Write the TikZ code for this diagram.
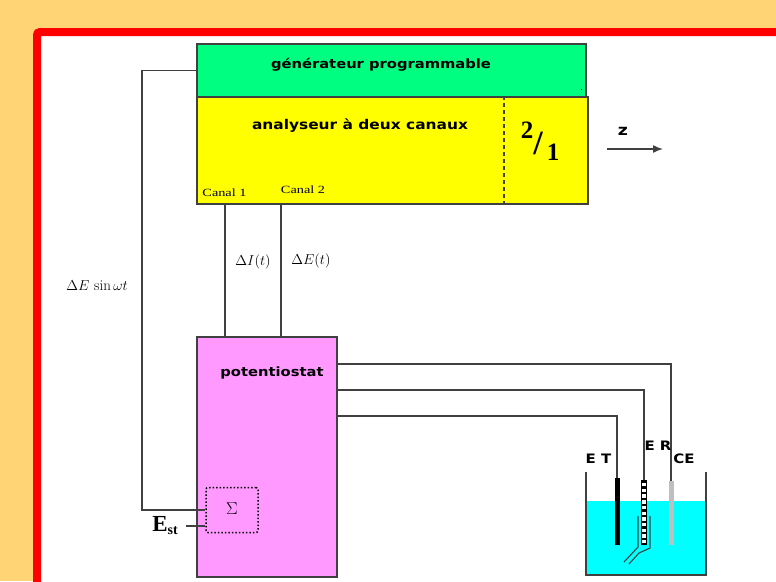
\documentclass[tikz,border=0pt]{standalone}
\usepackage{amsmath,amssymb}
\usepackage{xcolor}
\usepackage{fontspec}
\newfontfamily\boxfont[FakeStretch=1.15]{DejaVu Sans}
\newfontfamily\capfont{Liberation Serif}
\newfontfamily\canalfont[FakeStretch=1.3]{Liberation Serif}
\usetikzlibrary{calc,arrows.meta}
\definecolor{pagebg}{HTML}{FFD475}
\definecolor{genfill}{HTML}{00FF80}
\definecolor{anafill}{HTML}{FFFF00}
\definecolor{potfill}{HTML}{FF99FF}
\definecolor{waterfill}{HTML}{00FFFF}
\definecolor{wirecol}{HTML}{404040}
\tikzset{
  unit/.style={draw=wirecol, line width=1.5pt, inner sep=0pt},
  wire/.style={draw=wirecol, line width=1.5pt},
  title/.style={font=\boxfont\bfseries\fontsize{12.8}{14}\selectfont},
  electrode/.style={font=\boxfont\bfseries\fontsize{13}{14}\selectfont, inner sep=0pt},
  canal/.style={font=\canalfont\fontsize{11}{12}\selectfont, text=black!75!blue, inner sep=0pt},
  signal/.style={font=\fontsize{15}{18}\selectfont, inner sep=0pt},
  ratio/.style={font=\capfont\bfseries\fontsize{25}{26}\selectfont, inner sep=0pt}
}
\begin{document}
\begin{tikzpicture}[x=1pt,y=-1pt]
    \useasboundingbox (0,0) rectangle (776,581);
    \clip (0,0) rectangle (776,581);

    % Background and frame
    \fill[pagebg] (0,0) rectangle (776,581);
    \draw[red, fill=white, line width=8pt, rounded corners=3pt] (37,32) rectangle (800,620);

    % Units
    \node[unit, fill=genfill, minimum width=389pt, minimum height=53pt] (gen) at (391.5,70.5) {};
    \node[unit, fill=anafill, minimum width=391pt, minimum height=107pt] (ana) at (392.5,150.5) {};
    \node[unit, fill=potfill, minimum width=140pt, minimum height=240pt] (pot) at (267,457) {};
    \node[draw=black, dotted, line width=1.5pt, rounded corners=2pt, minimum width=52pt, minimum height=45pt, inner sep=0pt] (sum) at (232,510) {};
    \fill[black] (580.5,88.5) rectangle (582,90);

    % Titles
    \node[title] (gentitle) at (381,64.5) {générateur programmable};
    \node[title, font=\boxfont\bfseries\fontsize{13.4}{14}\selectfont] (anatitle) at (360,125.5) {analyseur à deux canaux};
    \node[title] (pottitle) at (272,373) {potentiostat};
    \node[inner sep=0pt, font=\fontsize{16}{18}\selectfont] (sumlabel) at (232,508.5) {$\Sigma$};
    \node[canal] (canalA) at (224.5,193) {Canal 1};
    \node[canal] (canalB) at (303,189.5) {Canal 2};

    % Ratio on the analyser
    \draw[wirecol, line width=1.3pt, dashed, dash pattern=on 4pt off 3pt] (ana.north -| 504,0) -- (ana.south -| 504,0);
    \node[ratio] (ratiotop) at (527,130.5) {2};
    \node[ratio, font=\capfont\bfseries\fontsize{34}{36}\selectfont, text=black!85!blue] (ratiobar) at (538,143.5) {/};
    \node[ratio] (ratiolow) at (553,152) {1};

    % z output
    \node[inner sep=0pt, font=\boxfont\bfseries\fontsize{15}{16}\selectfont] (zlabel) at (623,131) {z};
    \coordinate (zstart) at (607,149);
    \coordinate (zend) at (663,149);
    \draw[wire, -{Latex[length=10pt,width=8pt]}] (zstart) -- (zend);

    % Modulation loop
    \coordinate (loop) at (142,510);
    \draw[wire] (gen.west) -| (loop) -- (sum.west);
    \node[signal] (modlabel) at (97,286) {$\Delta E\,\sin\omega t$};

    % Canal wires
    \coordinate (wireA) at (225,0);
    \coordinate (wireB) at (281,0);
    \draw[wire] (wireA |- ana.south) -- (wireA |- pot.north);
    \draw[wire] (wireB |- ana.south) -- (wireB |- pot.north);
    \node[signal] (currlabel) at (253,262) {$\Delta I(t)$};
    \node[signal] (volt) at (311,261) {$\Delta E(t)$};

    % Set point
    \node[inner sep=0pt, font=\capfont\bfseries\fontsize{23}{24}\selectfont] (est) at (165,526) {E\raisebox{-3pt}{\fontsize{14}{14}\selectfont st}};
    \coordinate (eststart) at (186,526);
    \draw[wire] (eststart) -- (eststart -| sum.west);

    % Cell
    \fill[waterfill] (586,501) rectangle (706,575);
    \draw[wire] (586,472) -- (586,575) -- (706,575) -- (706,472);

    % Electrodes
    \coordinate (et) at (617,478);
    \coordinate (er) at (644,480);
    \coordinate (ce) at (671,481);
    \draw[wire] (pot.east |- 0,364) -| (ce);
    \draw[wire] (pot.east |- 0,390) -| (er);
    \draw[wire] (pot.east |- 0,416) -| (et);
    \fill[black] (614.5,478) rectangle (619.5,545);
    \fill[black!25] (668.5,481) rectangle (673.5,545);
    \fill[black] (641,480) rectangle (647,545);
    \foreach \k in {0,...,10} {
        \fill[white] (642.3,483+\k*5.7) rectangle (645.7,486.4+\k*5.7);
    }

    % Reference tube
    \draw[wirecol, line width=1.1pt] (638,516) -- (638,547) -- (624,562);
    \draw[wirecol, line width=1.1pt] (650,516) -- (650,548) -- (639,553) -- (629,564);

    \node[electrode] (etlabel) at (598.5,458.5) {E T};
    \node[electrode] (erlabel) at (658,445.5) {E R};
    \node[electrode] (celabel) at (684,458.5) {CE};
\end{tikzpicture}
\end{document}
